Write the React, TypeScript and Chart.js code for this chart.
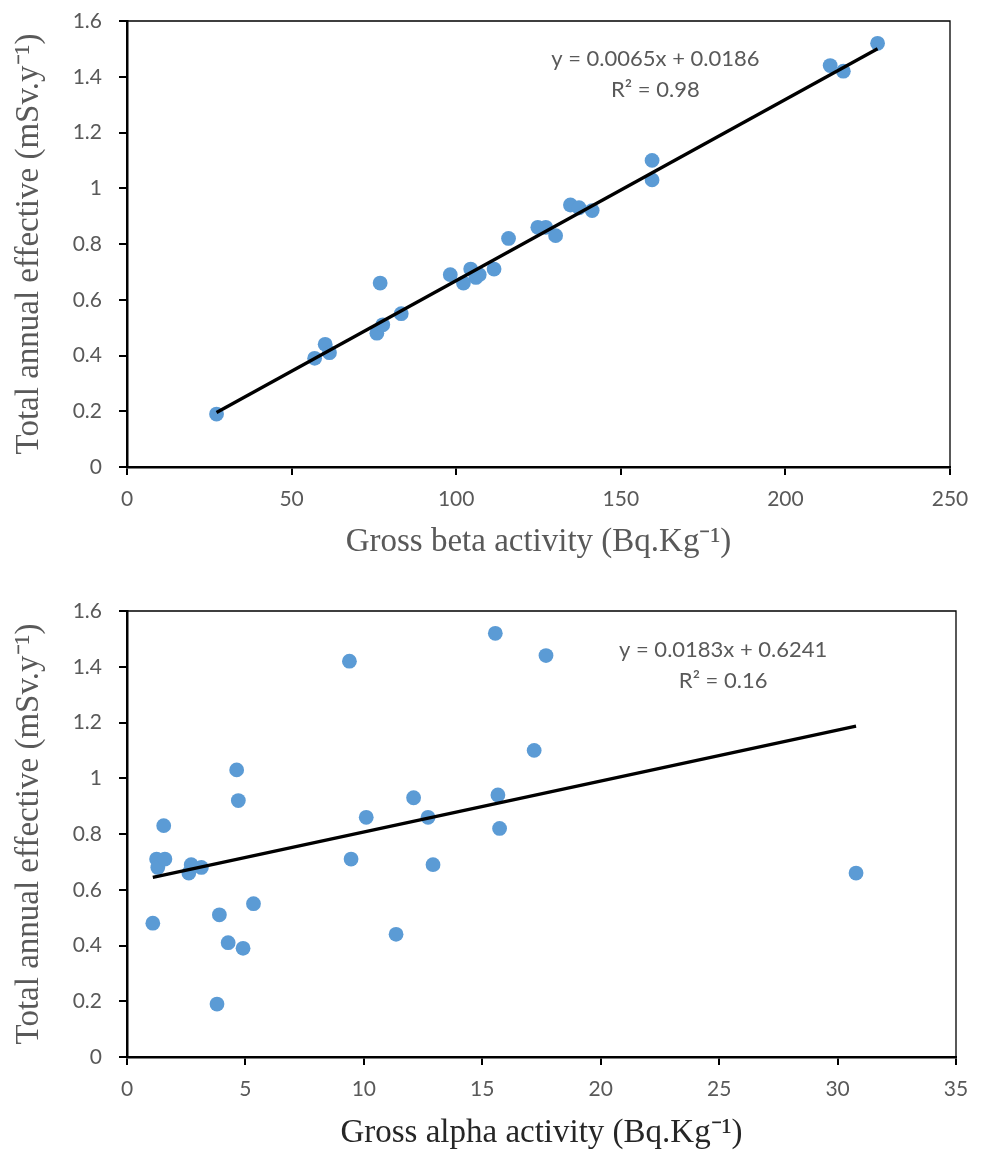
import React, { useEffect, useRef } from 'react';
import { Chart, registerables } from 'chart.js';

Chart.register(...registerables);

// ---- Data ----
const betaActivity = [27.2, 57.0, 60.2, 61.5, 75.9, 76.9, 77.7, 83.3, 98.2, 102.2, 104.4, 106.0, 107.0, 111.5, 115.9, 124.8, 127.2, 130.2, 134.7, 137.3, 141.3, 159.5, 159.5, 213.6, 217.6, 228.0];
const betaDose = [0.19, 0.39, 0.44, 0.41, 0.48, 0.66, 0.51, 0.55, 0.69, 0.66, 0.71, 0.68, 0.69, 0.71, 0.82, 0.86, 0.86, 0.83, 0.94, 0.93, 0.92, 1.10, 1.03, 1.44, 1.42, 1.52];

const alphaActivity = [1.09, 1.25, 1.30, 1.60, 1.55, 2.71, 2.61, 3.14, 3.80, 3.90, 4.27, 4.90, 4.63, 4.70, 5.34, 9.39, 9.46, 10.10, 11.36, 12.10, 12.71, 12.92, 15.55, 15.66, 15.73, 17.19, 17.69, 30.78];
const alphaDose = [0.48, 0.71, 0.68, 0.71, 0.83, 0.69, 0.66, 0.68, 0.19, 0.51, 0.41, 0.39, 1.03, 0.92, 0.55, 1.42, 0.71, 0.86, 0.44, 0.93, 0.86, 0.69, 1.52, 0.94, 0.82, 1.10, 1.44, 0.66];

const betaFit = { slope: 0.0065, intercept: 0.0186 };
const alphaFit = { slope: 0.0183, intercept: 0.6241 };

const betaEquation = ['y = 0.0065x + 0.0186', 'R² = 0.98'];
const alphaEquation = ['y = 0.0183x + 0.6241', 'R² = 0.16'];

const betaAxis = { max: 250, step: 50 };
const alphaAxis = { max: 35, step: 5 };
const doseAxis = { max: 1.6, step: 0.2 };

const betaXTitle = 'Gross beta activity (Bq.Kg⁻¹)';
const alphaXTitle = 'Gross alpha activity (Bq.Kg⁻¹)';
const doseTitle = 'Total annual effective (mSv.y⁻¹)';

const SANS = "Lato, 'Open Sans', sans-serif";
const SERIF = "'Liberation Serif', 'Times New Roman', serif";
const GRAY = '#595959';

type PanelProps = {
  width: number;
  height: number;
  top: number;
  area: { left: number; right: number; top: number; bottom: number };
  xs: number[];
  ys: number[];
  fit: { slope: number; intercept: number };
  xAxis: { max: number; step: number };
  xTitle: string;
  xTitleColor: string;
  xTitlePad: number;
  equation: string[];
  eqAnchor: { x: number; y: number };
};

function ScatterPanel(p: PanelProps) {
  const ref = useRef<HTMLCanvasElement | null>(null);

  useEffect(() => {
    if (!ref.current) return;
    const minX = Math.min(...p.xs);
    const maxX = Math.max(...p.xs);
    const points = p.xs.map((x, i) => ({ x, y: p.ys[i] }));
    const trend = [
      { x: minX, y: p.fit.slope * minX + p.fit.intercept },
      { x: maxX, y: p.fit.slope * maxX + p.fit.intercept },
    ];

    const framePlugin = {
      id: 'frame',
      afterDraw(chart: any) {
        const { ctx, chartArea } = chart;
        ctx.save();
        ctx.strokeStyle = '#000';
        ctx.lineWidth = 1.3;
        ctx.beginPath();
        ctx.moveTo(chartArea.left, chartArea.top);
        ctx.lineTo(chartArea.right, chartArea.top);
        ctx.lineTo(chartArea.right, chartArea.bottom);
        ctx.stroke();
        ctx.restore();
      },
    };

    const eqPlugin = {
      id: 'equation',
      afterDraw(chart: any) {
        const { ctx } = chart;
        const px = chart.scales.x.getPixelForValue(p.eqAnchor.x);
        const py = chart.scales.y.getPixelForValue(p.eqAnchor.y);
        ctx.save();
        ctx.fillStyle = GRAY;
        ctx.font = `22px ${SANS}`;
        ctx.textAlign = 'center';
        ctx.textBaseline = 'alphabetic';
        p.equation.forEach((line, i) => ctx.fillText(line, px, py + i * 31));
        ctx.restore();
      },
    };

    const chart = new Chart(ref.current, {
      type: 'scatter',
      data: {
        datasets: [
          {
            label: 'Linear fit',
            data: trend,
            showLine: true,
            borderColor: '#000',
            borderWidth: 3.3,
            pointRadius: 0,
            fill: false,
          } as any,
          {
            label: 'Samples',
            data: points,
            backgroundColor: '#5B9BD5',
            borderColor: '#5B9BD5',
            borderWidth: 0,
            pointRadius: 7.4,
            pointHoverRadius: 7.4,
          },
        ],
      },
      options: {
        responsive: false,
        animation: false,
        layout: {
          padding: { top: p.area.top, right: p.width - p.area.right, left: 0, bottom: 0 },
        },
        plugins: { legend: { display: false }, tooltip: { enabled: false } },
        scales: {
          x: {
            type: 'linear',
            min: 0,
            max: p.xAxis.max,
            ticks: {
              stepSize: p.xAxis.step,
              color: GRAY,
              font: { family: SANS, size: 21 },
              padding: 12,
              maxRotation: 0,
            },
            grid: { display: true, drawOnChartArea: false, drawTicks: true, tickLength: 8, color: '#000', lineWidth: 2 },
            border: { display: true, color: '#000', width: 2.5 },
            title: {
              display: true,
              text: p.xTitle,
              color: p.xTitleColor,
              font: { family: SERIF, size: 33, lineHeight: 1 },
              padding: { top: 0, bottom: p.xTitlePad },
            },
            afterFit: (s: any) => {
              s.height = p.height - p.area.bottom;
              s.paddingLeft = 0;
              s.paddingRight = 0;
            },
          },
          y: {
            type: 'linear',
            min: 0,
            max: doseAxis.max,
            ticks: {
              stepSize: doseAxis.step,
              color: GRAY,
              font: { family: SANS, size: 21 },
              padding: 17,
              callback: (v: any) => String(Math.round(Number(v) * 10) / 10),
            },
            grid: { display: true, drawOnChartArea: false, drawTicks: true, tickLength: 8, color: '#000', lineWidth: 2 },
            border: { display: true, color: '#000', width: 2.5 },
            title: {
              display: true,
              text: doseTitle,
              color: GRAY,
              font: { family: SERIF, size: 33, lineHeight: 1 },
              padding: { top: 5, bottom: 0 },
            },
            afterFit: (s: any) => {
              s.width = p.area.left;
              s.paddingTop = 0;
              s.paddingBottom = 0;
            },
          },
        },
      } as any,
      plugins: [framePlugin, eqPlugin],
    });
    return () => chart.destroy();
  }, []);

  return (
    <canvas
      ref={ref}
      width={p.width}
      height={p.height}
      style={{ position: 'absolute', left: 8, top: p.top, width: p.width, height: p.height, display: 'block' }}
    />
  );
}

export default function App() {
  return (
    <div
      style={{
        position: 'fixed',
        left: 0,
        top: 0,
        width: 982,
        height: 1151,
        overflow: 'hidden',
        background: '#fff',
      }}
    >
      <ScatterPanel
        width={966}
        height={574}
        top={8}
        area={{ left: 119, right: 942, top: 13, bottom: 459 }}
        xs={betaActivity}
        ys={betaDose}
        fit={betaFit}
        xAxis={betaAxis}
        xTitle={betaXTitle}
        xTitleColor={GRAY}
        xTitlePad={23}
        equation={betaEquation}
        eqAnchor={{ x: 160.5, y: 1.44 }}
      />
      <ScatterPanel
        width={966}
        height={569}
        top={582}
        area={{ left: 119, right: 948, top: 29, bottom: 475 }}
        xs={alphaActivity}
        ys={alphaDose}
        fit={alphaFit}
        xAxis={alphaAxis}
        xTitle={alphaXTitle}
        xTitleColor="#262626"
        xTitlePad={1.5}
        equation={alphaEquation}
        eqAnchor={{ x: 25.17, y: 1.436 }}
      />
    </div>
  );
}
